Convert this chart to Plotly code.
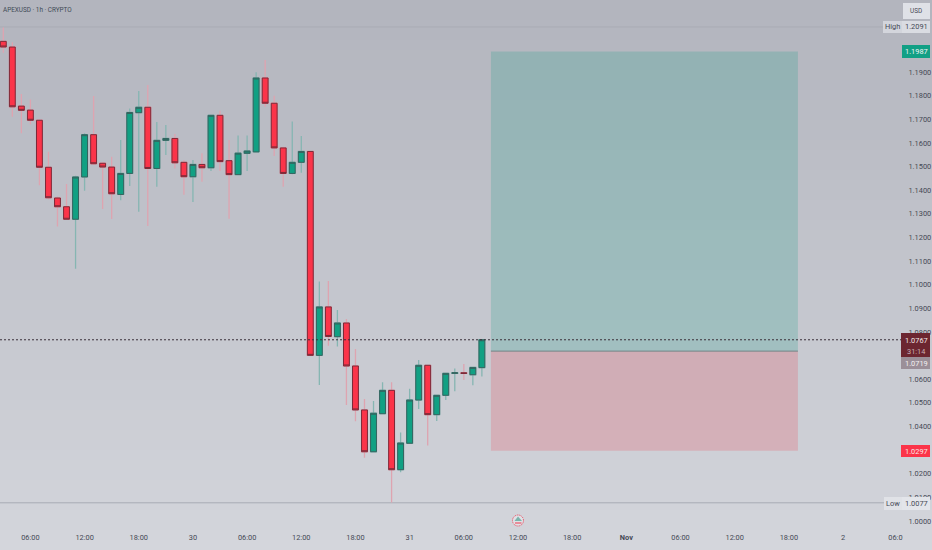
import pandas as pd
import plotly.graph_objects as go

W, H = 932, 550

opens = [1.2030, 1.2006, 1.1756, 1.1739, 1.1696, 1.1497, 1.1367, 1.1330, 1.1277, 1.1456,
         1.1635, 1.1514, 1.1498, 1.1382, 1.1471, 1.1728, 1.1751, 1.1492, 1.1611, 1.1619,
         1.1518, 1.1457, 1.1509, 1.1495, 1.1717, 1.1525, 1.1466, 1.1556, 1.1562, 1.1875,
         1.1768, 1.1579, 1.1471, 1.1518, 1.1564, 1.0701, 1.0906, 1.0780, 1.0838, 1.0656,
         1.0470, 1.0293, 1.0454, 1.0553, 1.0217, 1.0329, 1.0512, 1.0659, 1.0450, 1.0532,
         1.0625, 1.0627, 1.0619, 1.0649]
highs = [1.2089, 1.2026, 1.1807, 1.1784, 1.1700, 1.1563, 1.1373, 1.1426, 1.1461, 1.1641,
         1.1799, 1.1519, 1.1542, 1.1612, 1.1746, 1.1820, 1.1845, 1.1689, 1.1676, 1.1638,
         1.1528, 1.1528, 1.1556, 1.1718, 1.1736, 1.1612, 1.1631, 1.1631, 1.1899, 1.1951,
         1.1800, 1.1584, 1.1691, 1.1629, 1.1566, 1.1014, 1.1016, 1.0893, 1.0855, 1.0728,
         1.0516, 1.0508, 1.0587, 1.0587, 1.0375, 1.0560, 1.0681, 1.0659, 1.0532, 1.0625,
         1.0645, 1.0664, 1.0653, 1.0769]
lows = [1.1982, 1.1711, 1.1641, 1.1679, 1.1421, 1.1361, 1.1246, 1.1277, 1.1068, 1.1398,
        1.1507, 1.1320, 1.1278, 1.1358, 1.1418, 1.1309, 1.1248, 1.1415, 1.1549, 1.1492,
        1.1381, 1.1350, 1.1436, 1.1481, 1.1481, 1.1279, 1.1466, 1.1481, 1.1562, 1.1753,
        1.1545, 1.1415, 1.1468, 1.1474, 1.0698, 1.0576, 1.0742, 1.0738, 1.0491, 1.0422,
        1.0268, 1.0293, 1.0454, 1.0078, 1.0206, 1.0329, 1.0474, 1.0319, 1.0423, 1.0512,
        1.0549, 1.0597, 1.0574, 1.0612]
closes = [1.2006, 1.1753, 1.1738, 1.1696, 1.1497, 1.1368, 1.1330, 1.1277, 1.1456, 1.1635,
          1.1512, 1.1498, 1.1385, 1.1471, 1.1729, 1.1751, 1.1492, 1.1611, 1.1619, 1.1516,
          1.1457, 1.1509, 1.1495, 1.1717, 1.1521, 1.1466, 1.1557, 1.1566, 1.1875, 1.1768,
          1.1579, 1.1471, 1.1518, 1.1564, 1.0701, 1.0906, 1.0781, 1.0838, 1.0656, 1.0470,
          1.0293, 1.0456, 1.0553, 1.0217, 1.0330, 1.0512, 1.0659, 1.0450, 1.0532, 1.0625,
          1.0627, 1.0625, 1.0650, 1.0767]

times = pd.date_range("2025-10-29 03:00", periods=len(opens), freq="h")

tick_times = ["2025-10-29 06:00", "2025-10-29 12:00", "2025-10-29 18:00", "2025-10-30 00:00",
              "2025-10-30 06:00", "2025-10-30 12:00", "2025-10-30 18:00", "2025-10-31 00:00",
              "2025-10-31 06:00", "2025-10-31 12:00", "2025-10-31 18:00", "2025-11-01 00:00",
              "2025-11-01 06:00", "2025-11-01 12:00", "2025-11-01 18:00", "2025-11-02 00:00",
              "2025-11-02 06:00"]
tick_labels = ["06:00", "12:00", "18:00", "30", "06:00", "12:00", "18:00", "31",
               "06:00", "12:00", "18:00", "<b>Nov</b>", "06:00", "12:00", "18:00", "2", "06:0\u00a0\u00a0"]
# 1.03 and 1.07 sit fully behind the stop and entry tags
price_ticks = [1.00, 1.01, 1.02, 1.04, 1.05, 1.06, 1.08, 1.09, 1.10, 1.11, 1.12,
               1.13, 1.14, 1.15, 1.16, 1.17, 1.18, 1.19]
price_labels = ["%.4f" % p for p in price_ticks]

high_price = 1.2091
low_price = 1.0077
last_price = 1.0767
entry_price = 1.0719
target_price = 1.1987
stop_price = 1.0297
box_start = "2025-10-31 09:00"
box_end = "2025-11-01 19:00"

RED = "#fb3449"
GREEN = "#11a083"
TEXT = "#454955"


def px(x):
    return x / W


def py(y):
    return 1 - y / H


def rect(x0, y0, x1, y1, color, layer="above"):
    return dict(type="rect", xref="paper", yref="paper", x0=px(x0), x1=px(x1), y0=py(y0), y1=py(y1),
                fillcolor=color, line_width=0, layer=layer)


def label(x, y, text, color=TEXT, size=7.4):
    return dict(xref="paper", yref="paper", x=px(x), y=py(y), text=text, showarrow=False,
                font=dict(family="Roboto", size=size, color=color), xanchor="center", yanchor="middle")


fig = go.Figure()

# pale wicks first, then the bodies on top with their own dark outline
fig.add_trace(go.Candlestick(
    x=times, open=opens, high=highs, low=lows, close=closes,
    increasing=dict(line=dict(color="#86b6b2", width=1.3), fillcolor="rgba(0,0,0,0)"),
    decreasing=dict(line=dict(color="#dea4b0", width=1.3), fillcolor="rgba(0,0,0,0)"),
    whiskerwidth=0,
))
fig.add_trace(go.Candlestick(
    x=times, open=opens, close=closes,
    high=[max(o, c) for o, c in zip(opens, closes)],
    low=[min(o, c) for o, c in zip(opens, closes)],
    increasing=dict(line=dict(color="#35635f", width=1), fillcolor=GREEN),
    decreasing=dict(line=dict(color="#7b2a38", width=1), fillcolor=RED),
    whiskerwidth=0,
))

shapes = []

# background gets lighter towards the bottom
bands = 55
for i in range(bands):
    t = i / (bands - 1)
    c = "rgb(%d,%d,%d)" % (179 + 33 * t, 181 + 33 * t, 190 + 30 * t)
    shapes.append(rect(0, i * H / bands, W, (i + 1) * H / bands + 1, c, layer="below"))

# long position tool
shapes.append(dict(type="rect", xref="x", yref="y", x0=box_start, x1=box_end, y0=entry_price,
                   y1=target_price, fillcolor="rgba(8,153,129,0.2)", line_width=0, layer="below"))
shapes.append(dict(type="rect", xref="x", yref="y", x0=box_start, x1=box_end, y0=stop_price,
                   y1=entry_price, fillcolor="rgba(242,54,69,0.2)", line_width=0, layer="below"))
shapes.append(dict(type="line", xref="x", yref="y", x0=box_start, x1=box_end, y0=entry_price,
                   y1=entry_price, line=dict(color="#6f8587", width=1), layer="below"))

# high / low / last price lines
for p in [high_price, low_price]:
    shapes.append(dict(type="line", xref="paper", yref="y", x0=0, x1=px(884), y0=p, y1=p,
                       line=dict(color="#a9abb4", width=1), layer="below"))
shapes.append(dict(type="line", xref="paper", yref="y", x0=0, x1=px(901), y0=last_price, y1=last_price,
                   line=dict(color="#3a2f38", width=1, dash="2px,2px")))

# price scale labels
shapes += [
    rect(903, 3, 930, 19, "#dfe1e7"),
    rect(883, 21, 902, 33, "#d3d5dc"),
    rect(902, 21, 930, 33, "#dadce2"),
    rect(902, 45, 930, 58, "#12a085"),
    rect(901, 333, 930, 357, "#6c2630"),
    rect(901, 357, 930, 369, "#9b8f98"),
    rect(901, 445, 930, 457, "#fb3449"),
    rect(884, 497, 902, 510, "#e0e2e7"),
    rect(902, 497, 930, 510, "#e3e5ea"),
]

# earnings-style marker on the time axis
shapes.append(dict(type="circle", xref="paper", yref="paper", x0=px(512.5), x1=px(523.5), y0=py(526),
                   y1=py(515), fillcolor="#dfe1e6", line=dict(color="#f0394f", width=1, dash="1px,1px")))
shapes.append(dict(type="path", xref="paper", yref="paper",
                   path="M %f %f L %f %f L %f %f Z" % (px(514.5), py(521), px(518), py(516.5), px(522), py(521)),
                   fillcolor="#79b5ac", line_width=0))
shapes.append(rect(515, 522.5, 521.5, 523.5, "#f0394f"))

annotations = [
    label(37.5, 10, "APEXUSD · 1h · CRYPTO", color="#3e4a55", size=6.4),
    label(916, 11, "USD", size=6.4),
    label(892.5, 27, "High"),
    label(916, 27, "1.2091"),
    label(916, 51.5, "1.1987", color="#f2f6f5"),
    label(916, 340, "1.0767", color="#f0e6e8"),
    label(916, 351, "31:14", color="#c9aeb3"),
    label(916, 363, "1.0719", color="#f3f0f2"),
    label(916, 451, "1.0297", color="#fbe4e6"),
    label(892.5, 503.5, "Low"),
    label(916, 503.5, "1.0077"),
]

fig.update_layout(
    width=W,
    height=H,
    margin=dict(l=0, r=0, t=0, b=0),
    paper_bgcolor="#d3d5dc",
    plot_bgcolor="rgba(0,0,0,0)",
    showlegend=False,
    boxmode="overlay",
    boxgap=0.35,
    boxgroupgap=0,
    shapes=shapes,
    annotations=annotations,
    xaxis=dict(
        domain=[0, 901 / W],
        automargin=False,  # otherwise the tick labels shrink the paper area
        type="date",
        range=["2025-10-29 02:38", "2025-11-02 06:25"],
        rangeslider=dict(visible=False),
        tickmode="array",
        tickvals=tick_times,
        ticktext=tick_labels,
        showgrid=False,
        zeroline=False,
        showline=False,
        ticks="",
        tickangle=0,
        tickfont=dict(family="Roboto", size=7.4, color=TEXT),
    ),
    yaxis=dict(
        domain=[18 / H, 1],
        automargin=False,
        side="right",
        range=[0.99534, 1.2205],
        tickmode="array",
        tickvals=price_ticks,
        ticktext=price_labels,
        showgrid=False,
        zeroline=False,
        showline=False,
        ticks="outside",
        ticklen=5,
        tickcolor="rgba(0,0,0,0)",
        tickfont=dict(family="Roboto", size=7.4, color=TEXT),
    ),
)

# the page's default body margin would push the chart 8px off
fig.write_html("out.html", config=dict(displayModeBar=False),
               post_script="document.body.style.margin='0';document.body.style.overflow='hidden';")
